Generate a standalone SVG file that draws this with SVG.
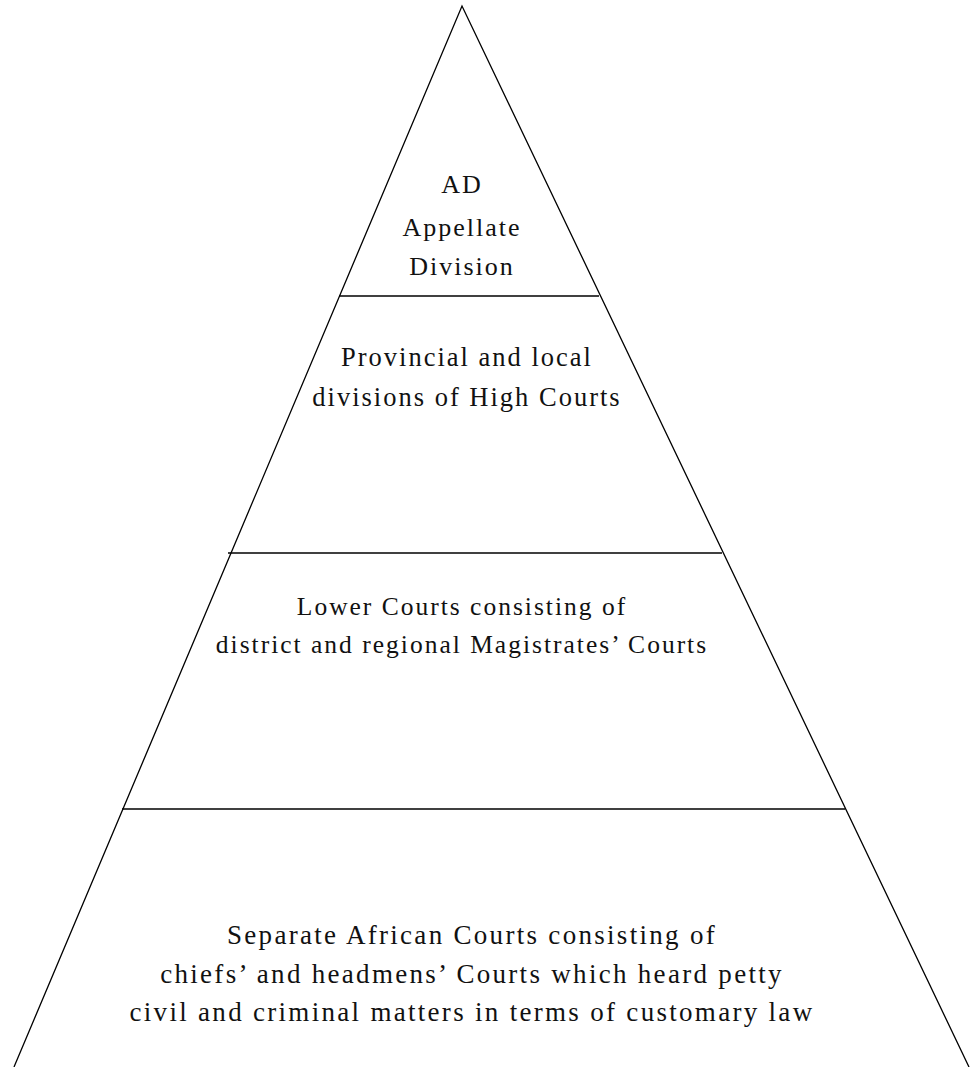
<svg xmlns="http://www.w3.org/2000/svg" width="972" height="1067" viewBox="0 0 972 1067">
  <style>
    .edge { stroke: #000; stroke-width: 1.3; fill: none; }
    .tier { stroke: #000; stroke-width: 1.3; }
    .label { font-family: "Liberation Serif", "DejaVu Serif", serif; fill: #111; text-anchor: middle; letter-spacing: 2px; }
    .t1 { font-size: 26px; }
    .t2 { font-size: 26.5px; }
    .t3 { font-size: 25.5px; }
    .t4 { font-size: 27px; letter-spacing: 2.3px; }
  </style>
  <rect width="972" height="1067" fill="#fff"/>
  <g id="connectors">
    <!-- pyramid outline, running past the bottom edge -->
    <polyline class="edge" points="14,1067 462,6 969,1067"/>
    <!-- tier separators -->
    <line class="tier" x1="339" y1="296" x2="599" y2="296"/>
    <line class="tier" x1="228" y1="553" x2="722" y2="553"/>
    <line class="tier" x1="122" y1="809" x2="845" y2="809"/>
  </g>
  <g id="tier-appellate">
    <text class="label t1" x="462" y="193">AD</text>
    <text class="label t1" x="462" y="236">Appellate</text>
    <text class="label t1" x="462" y="275">Division</text>
  </g>
  <g id="tier-high-courts">
    <text class="label t2" x="467" y="366">Provincial and local</text>
    <text class="label t2" x="467" y="406">divisions of High Courts</text>
  </g>
  <g id="tier-lower-courts">
    <text class="label t3" x="462" y="615">Lower Courts consisting of</text>
    <text class="label t3" x="462" y="653">district and regional Magistrates’ Courts</text>
  </g>
  <g id="tier-african-courts">
    <text class="label t4" x="472" y="944">Separate African Courts consisting of</text>
    <text class="label t4" x="472" y="983">chiefs’ and headmens’ Courts which heard petty</text>
    <text class="label t4" x="472" y="1021">civil and criminal matters in terms of customary law</text>
  </g>
</svg>
